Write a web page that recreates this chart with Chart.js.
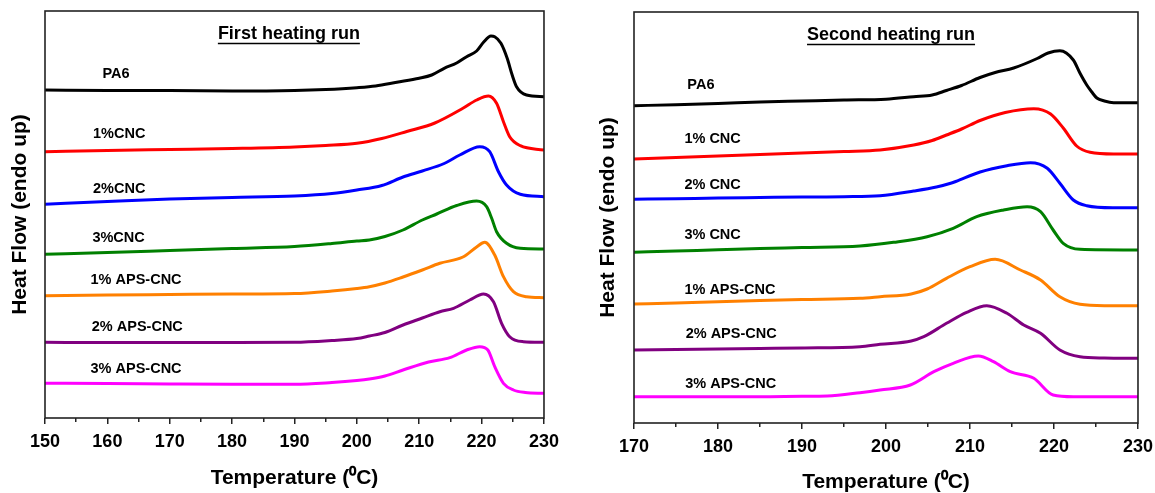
<!DOCTYPE html>
<html><head><meta charset="utf-8">
<script src="https://cdn.jsdelivr.net/npm/chart.js@4.4.1/dist/chart.umd.min.js"></script>
<style>
body{margin:0;background:#fff;width:1155px;height:493px;overflow:hidden;position:relative}
canvas{position:absolute;top:0}
</style></head><body>
<canvas id="c1" width="566" height="493" style="left:0"></canvas>
<canvas id="c2" width="600" height="493" style="left:560px"></canvas>
<script>
// ---------- First heating run (temperature °C, heat flow arb. units, curves offset) ----------
const firstNames = ['PA6','1%CNC','2%CNC','3%CNC','1% APS-CNC','2% APS-CNC','3% APS-CNC'];
const firstColors = ['#000000','#ff0000','#0000ff','#008000','#ff8000','#800080','#ff00ff'];

const firstPA6T = [150,160,170,180,190,195,200,203,206.4,210,212,214,216,217.6,219.2,220.3,221.5,222.1,223.1,224.1,224.9,225.6,227.2,230];
const firstPA6H = [328,327.5,327.5,327,327.5,328.5,330.3,332,335.7,339.7,343,349.7,355,361.3,367,375.7,382,381.3,374.7,359.7,343,331.3,323,321.3];

const first1CT = [150,160,170,180,190,195,200,204,208,212.5,217,219.2,221.1,222.4,223.5,224.5,226.2,230];
const first1CH = [266.3,267.5,268.5,269.5,271,272.5,274.7,279.5,286.5,295,309.7,318,322,314.7,296.3,281.3,272.3,268];

const first2CT = [150,160,170,180,190,196,200,204,207.4,210.5,214,216.5,219.7,221.3,222.7,224,226.2,230];
const first2CH = [213.7,216.5,219,220.5,222,224.5,228,232.5,241,247,254.5,263,271.3,266.3,246.3,233,223.7,221.3];

const first3CT = [150,160,170,180,190,196,200,202,204.5,207.4,210.5,212.8,216,219.2,220.8,221.6,222.4,224,226.2,230];
const first3CH = [163.7,165.5,167.5,169.5,171.5,174.5,177,178,181.5,188,198,204,212.5,217,211.3,200,186.3,174.7,169.7,169];

const first1AT = [150,160,170,180,190,196,200,202,204.5,207.4,210.5,213.3,217,219.2,220.5,222.1,223.5,225.1,227.2,230];
const first1AH = [122.3,123,123.5,124,124.5,127,129.5,131.3,135,141,148,154.7,161,171,175.7,163,141.3,126.3,121.3,120.3];

const first2AT = [150,160,170,180,190,196,200,202,204.5,207.4,210.5,213.3,215.5,218.1,220.3,221.9,223.2,224.5,226.7,230];
const first2AH = [75.7,75.5,75.5,75.5,75.7,77.5,79.5,82,85.5,93,100,106.3,109.7,118,124,116.3,94.7,81.3,76.3,75.7];

const first3AT = [150,160,170,180,190,196,200,202,204.5,207.4,211.5,214.9,217.6,219.7,221,222.1,223.5,225.1,227,230];
const first3AH = [34.7,34.5,34,33.7,33.7,35.5,37.5,39,42,48,56,60.3,68,71.3,68,51.3,34.7,28,25.5,24.7];

const firstLabelT = [159.2,157.7,157.7,157.6,157.3,157.5,157.3];
const firstLabelH = [344,284,229,180.3,138,91.3,48.7];

// ---------- Second heating run ----------
const secondNames = ['PA6','1% CNC','2% CNC','3% CNC','1% APS-CNC','2% APS-CNC','3% APS-CNC'];

const secondPA6T = [170,175,180,185,190,195,200,203.3,205.5,207.2,209,211.2,213,215.2,218,219.3,220.7,222.3,223.1,223.9,224.5,225.1,226,227.1,230];
const secondPA6H = [317.3,318.3,319.5,321,322,323,323.8,326.3,328,332.5,337.5,345.5,350.5,355,364.5,370,372.3,363,349.7,338,331,325,322,320.3,320.3];

const second1CT = [170,175,180,185,190,195,199.3,203.3,205.5,207.2,209,211.2,214.2,217.6,219.6,221.1,222.7,224.3,227.1,230];
const second1CH = [264,265.5,267,268.5,270,271.5,273,278,282.5,288,294,302.5,310.5,314.3,309,295,277,270.7,269,269];

const second2CT = [170,175,180,185,190,195,199.3,203.3,206,207.8,208.3,211.2,214.4,217.2,219.2,220.7,222.3,223.9,227,230];
const second2CH = [223.7,224.3,225,225.5,226,226.3,227.3,232,236,240,241.5,251,257.3,260.3,254.7,239.7,223,217.3,215.3,215.3];

const second3CT = [170,175,180,185,190,196.9,200.9,204.9,208,210.8,214,216.8,218.4,219.9,221.1,223.1,230];
const second3CH = [170.7,172,173.2,174.5,175.5,177,180.7,186.3,194.7,206.3,213,216.3,211.3,193,179.7,173.7,173];

const second1AT = [170,175,180,185,190,196.9,199.3,203,204.9,207.2,210,213,216,218.4,220.7,223.1,226,230];
const second1AH = [119,120,121.3,122.5,123.5,124.7,126.3,129,134,144.7,156.3,163.7,153,143,126.3,118.7,117.3,117.3];

const second2AT = [170,175,180,185,190,196.9,199.3,203,204.5,207.2,209.6,212,214.4,216.4,218.4,220.7,223.1,226,230];
const second2AH = [73,73.5,74,74.5,75,76.3,78.7,82,86.3,99.7,110.7,117.3,109.7,98,89.7,73,66.3,65,64.7];

const second3AT = [170,175,180,185,190,193,196.9,199.3,202.9,205.7,208,211,212.8,214.8,217.6,219.9,222.3,230];
const second3AH = [26.3,26.3,26.3,26.3,26.7,27,30.3,33,38,51.3,59.7,67,61.3,51.3,44.7,28,26.3,26.3];

const secondLabelT = [176.35,176,176,176,176,176.15,176.1];
const secondLabelH = [338,284,238,188,133,89,39];

const xTickStep = 5;
const firstTitle = 'First heating run';
const secondTitle = 'Second heating run';
const xTitle = 'Temperature (\u2070C)';
const yTitle = 'Heat Flow (endo up)';

// ---------- build ----------
const FONT = '"Liberation Sans", Arial, Helvetica, sans-serif';
function zip(T, H){ return T.map((t,i)=>({x:t,y:H[i]})); }
function makeSets(names, Ts, Hs){
  return names.map((n,i)=>({label:n,data:zip(Ts[i],Hs[i]),borderColor:firstColors[i],
    borderWidth:3,pointRadius:0,fill:false,cubicInterpolationMode:'monotone'}));
}
function decor(title, tT, tH, names, LT, LH){
  return {id:'decor', afterDatasetsDraw(chart){
    const {ctx, chartArea:a, scales:{x,y}} = chart;
    ctx.save();
    ctx.strokeStyle='#222'; ctx.lineWidth=1.6;
    ctx.strokeRect(a.left, a.top, a.right-a.left, a.bottom-a.top);
    ctx.fillStyle='#000';
    ctx.font='bold 14.5px '+FONT; ctx.textAlign='left'; ctx.textBaseline='middle';
    names.forEach((n,i)=>ctx.fillText(n, x.getPixelForValue(LT[i]), y.getPixelForValue(LH[i])));
    ctx.font='bold 18px '+FONT; ctx.textAlign='center';
    const cx=x.getPixelForValue(tT), cy=y.getPixelForValue(tH);
    ctx.fillText(title, cx, cy);
    const w=ctx.measureText(title).width;
    ctx.lineWidth=1.5; ctx.strokeStyle='#000';
    ctx.beginPath(); ctx.moveTo(cx-w/2, cy+9.5); ctx.lineTo(cx+w/2, cy+9.5); ctx.stroke();
    ctx.restore();
  }};
}
function makeChart(id, sets, xmin, xmax, ymax, yW, xH, pad, yTitlePad, xTitlePad, plug){
  return new Chart(document.getElementById(id), {
    type:'line',
    data:{datasets:sets},
    options:{
      responsive:false, animation:false, devicePixelRatio:1,
      layout:{padding:pad},
      plugins:{legend:{display:false}, tooltip:{enabled:false}},
      scales:{
        x:{type:'linear', min:xmin, max:xmax,
          afterFit:s=>{s.height=xH;},
          ticks:{stepSize:xTickStep, autoSkip:false, maxRotation:0, padding:7, color:'#000',
            font:{family:FONT, size:18, weight:'bold'},
            callback:v=> (v%10===0 ? String(v) : '')},
          grid:{drawOnChartArea:false, drawTicks:true, tickLength:6, color:'#222', lineWidth:1.5,
            tickBorderDash:c=> (c.tick && c.tick.value%10!==0) ? [4,20] : []},
          border:{display:false},
          title:{display:true, text:xTitle, color:'#000', padding:{top:0,bottom:xTitlePad},
            font:{family:FONT, size:21, weight:'bold', lineHeight:1.05}}
        },
        y:{min:0, max:ymax,
          afterFit:s=>{s.width=yW;},
          ticks:{display:false},
          grid:{display:false},
          border:{display:false},
          title:{display:true, text:yTitle, color:'#000', padding:{top:yTitlePad,bottom:0},
            font:{family:FONT, size:21, weight:'bold'}}
        }
      }
    },
    plugins:[plug]
  });
}

makeChart('c1',
  makeSets(firstNames,
    [firstPA6T,first1CT,first2CT,first3CT,first1AT,first2AT,first3AT],
    [firstPA6H,first1CH,first2CH,first3CH,first1AH,first2AH,first3AH]),
  150, 230, 407, 45, 75, {left:0,top:11,right:10,bottom:0}, 7.4, 4,
  decor(firstTitle, 189.1, 384, firstNames, firstLabelT, firstLabelH));

makeChart('c2',
  makeSets(secondNames,
    [secondPA6T,second1CT,second2CT,second3CT,second1AT,second2AT,second3AT],
    [secondPA6H,second1CH,second2CH,second3CH,second1AH,second2AH,second3AH]),
  170, 230, 411, 74, 70, {left:0,top:12,right:12,bottom:0}, 35.7, 0,
  decor(secondTitle, 200.6, 388, secondNames, secondLabelT, secondLabelH));
</script>
</body></html>
